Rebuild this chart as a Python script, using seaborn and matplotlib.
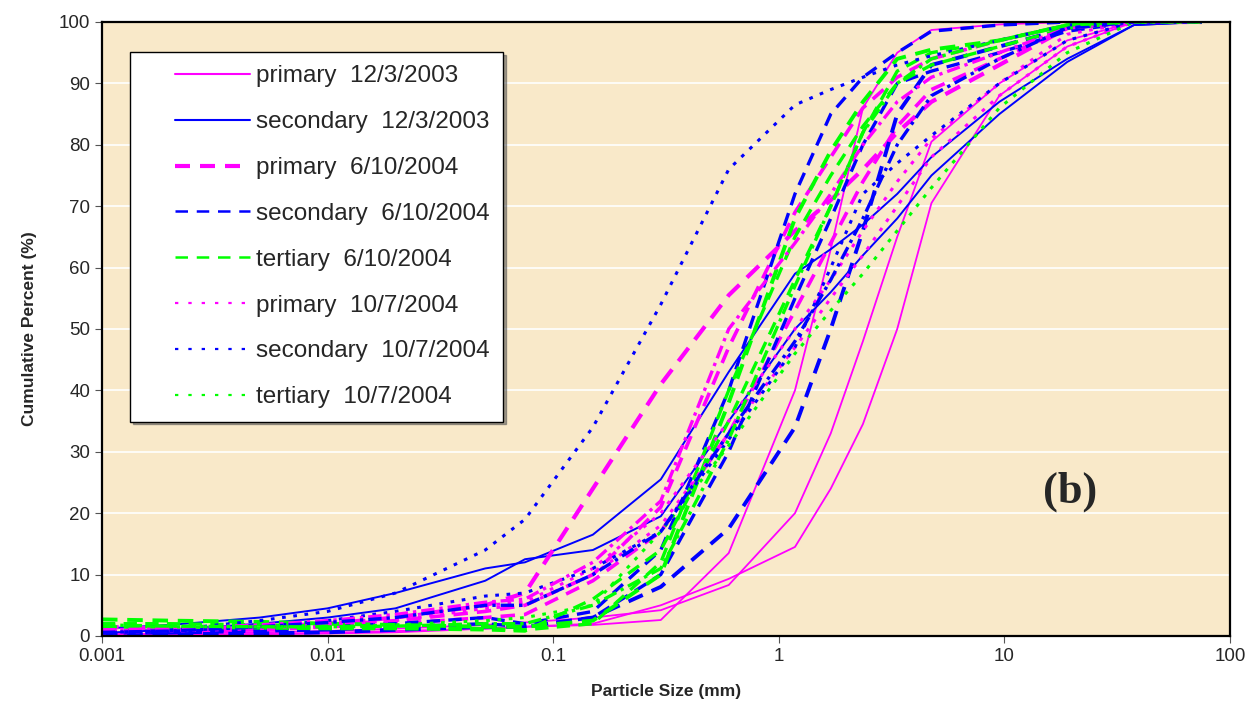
import numpy as np
import pandas as pd
import matplotlib
matplotlib.use("Agg")
import matplotlib.pyplot as plt
from matplotlib.lines import Line2D
from matplotlib.legend_handler import HandlerLine2D
import seaborn as sns

# sieve / hydrometer sizes (mm)
sizes = [0.001, 0.002, 0.005, 0.01, 0.02, 0.05, 0.075, 0.15, 0.3, 0.6,
         1.18, 1.7, 2.36, 3.35, 4.75, 9.5, 19, 37.5, 75]

# primary 12/3/2003
prim_0312_a = [0.2, 0.2, 0.3, 0.5, 0.8, 1.2, 1.5, 1.8, 2.6, 13.5, 40, 63, 86, 95, 98.7, 99.6, 100, 100, 100]
prim_0312_b = [0.3, 0.4, 0.6, 0.8, 1.2, 1.8, 2.2, 3, 4.2, 8.3, 20, 33, 48, 65, 80.5, 90, 97, 100, 100]
prim_0312_c = [0.1, 0.2, 0.3, 0.4, 0.6, 1.2, 1.5, 2, 5, 9.3, 14.5, 24, 34.5, 50, 70.5, 88, 96, 100, 100]
# secondary 12/3/2003
sec_0312_a = [1.2, 1.8, 3, 4.5, 7, 11, 12, 16.5, 25.5, 43, 59, 63, 67, 72, 78, 87, 94, 99.5, 100]
sec_0312_b = [0.5, 1, 2, 3, 4.5, 9, 12.5, 14, 19.5, 35, 50, 56, 62, 68, 75, 85, 93.5, 99.5, 100]
# primary 6/10/2004
prim_0610_a = [1.5, 1.2, 1.5, 2, 3, 5, 7, 24, 41, 55.5, 66, 71, 76, 82, 87, 93, 99, 100, 100]
prim_0610_b = [1, 1, 1.2, 1.8, 2.5, 4, 5, 10, 21, 47, 69, 78, 86, 91, 94, 97, 99.5, 100, 100]
prim_0610_c = [0.8, 0.8, 1, 1.5, 2, 3, 3.5, 9, 17, 33, 53, 64, 74, 83, 89, 94, 99, 100, 100]
# secondary 6/10/2004
sec_0610_a = [0.3, 0.3, 0.4, 0.6, 1, 1.5, 1.5, 3, 8, 17.5, 34, 50, 66, 85, 93, 96, 99, 100, 100]
sec_0610_b = [0.8, 0.8, 1, 1.5, 2, 3, 2, 4, 14, 40, 72, 85, 91, 95, 98.5, 99.5, 100, 100, 100]
sec_0610_c = [0.5, 0.5, 0.8, 1, 1.5, 2, 1.5, 3, 10, 30, 55, 68, 80, 90, 92, 95, 98.5, 100, 100]
# tertiary 6/10/2004
ter_0610_a = [2.7, 2.5, 2.3, 2, 1.8, 1.5, 1.5, 2.5, 10, 38, 68, 79, 87, 94, 95.5, 97, 99.5, 100, 100]
ter_0610_b = [2, 2, 1.8, 1.6, 1.5, 1.2, 1, 2, 12, 40, 65, 75, 83, 90, 93, 96, 99, 100, 100]
ter_0610_c = [1.5, 1.5, 1.3, 1.2, 1.2, 1, 0.8, 6, 14, 35, 58, 70, 82, 92, 95, 97, 99.5, 100, 100]
# primary 10/7/2004
prim_1007_a = [0.8, 1, 1.5, 2, 3, 5, 5.5, 11, 20, 35, 50, 58, 66, 74, 81, 90, 98, 100, 100]
prim_1007_b = [0.5, 0.8, 1.2, 1.8, 2.5, 4.5, 5, 10, 18, 33, 47, 55, 62, 70, 78, 88, 96, 100, 100]
# secondary 10/7/2004
sec_1007_a = [0.5, 1, 2.5, 4, 7, 14, 19, 34, 54, 76, 86.5, 89, 91, 93, 94.5, 97, 99.5, 100, 100]
sec_1007_b = [0.5, 0.8, 1.5, 2.5, 4, 6.5, 7, 11, 17, 32, 47, 60, 72, 77, 81.5, 90, 97, 100, 100]
# tertiary 10/7/2004
ter_1007_a = [1.5, 1.5, 1.5, 1.5, 1.8, 2.5, 3, 5, 17, 31, 46, 53, 59, 66, 73, 86, 95, 100, 100]
# replicate runs (dash-dot, not in legend)
prim_rep = [1, 1.2, 1.8, 2.5, 3.5, 5.5, 6, 12, 22, 50, 64, 72, 80, 87, 91, 95, 99, 100, 100]
sec_rep = [0.6, 0.8, 1.5, 2.2, 3, 5, 5, 10, 17, 33, 48, 58, 68, 80, 88, 94, 99, 100, 100]
ter_rep = [1.8, 1.6, 1.5, 1.5, 1.6, 2, 2, 5, 11, 32, 57, 70, 82, 90, 94, 97, 99.5, 100, 100]

MAG, BLU, GRN = "#FF00FF", "#0000FF", "#00FF00"
DASH = (0, (4, 2.5))
DOT = (0, (1.2, 2.5))
DASHDOT = (0, (4, 1.5, 1, 1.5))
LEG_DASH = (0, (5, 3.5))
LEG_DASH_THICK = (0, (3.6, 2.4))
LEG_DOT = (0, (1.5, 4.5))

# (values, colour, dash, width, legend label, legend dash, legend width)
runs = [
    (prim_0312_a, MAG, "-", 1.3, "primary  12/3/2003", "-", 1.5),
    (prim_0312_b, MAG, "-", 1.3, None, None, 0),
    (prim_0312_c, MAG, "-", 1.3, None, None, 0),
    (sec_0312_a, BLU, "-", 1.4, "secondary  12/3/2003", "-", 1.5),
    (sec_0312_b, BLU, "-", 1.4, None, None, 0),
    (prim_0610_a, MAG, DASH, 3.0, "primary  6/10/2004", LEG_DASH_THICK, 3.0),
    (prim_0610_b, MAG, DASH, 2.6, None, None, 0),
    (prim_0610_c, MAG, DASH, 2.6, None, None, 0),
    (sec_0610_a, BLU, DASH, 2.8, "secondary  6/10/2004", LEG_DASH, 1.8),
    (sec_0610_b, BLU, DASH, 2.4, None, None, 0),
    (sec_0610_c, BLU, DASH, 2.4, None, None, 0),
    (ter_0610_a, GRN, DASH, 2.8, "tertiary  6/10/2004", LEG_DASH, 1.8),
    (ter_0610_b, GRN, DASH, 2.4, None, None, 0),
    (ter_0610_c, GRN, DASH, 2.4, None, None, 0),
    (prim_1007_a, MAG, DOT, 2.2, "primary  10/7/2004", LEG_DOT, 1.6),
    (prim_1007_b, MAG, DOT, 2.2, None, None, 0),
    (sec_1007_a, BLU, DOT, 2.2, "secondary  10/7/2004", LEG_DOT, 1.6),
    (sec_1007_b, BLU, DOT, 2.2, None, None, 0),
    (ter_1007_a, GRN, DOT, 2.2, "tertiary  10/7/2004", LEG_DOT, 1.6),
    (prim_rep, MAG, DASHDOT, 2.4, None, None, 0),
    (sec_rep, BLU, DASHDOT, 2.4, None, None, 0),
    (ter_rep, GRN, DASHDOT, 2.4, None, None, 0),
]


# legend handle drawn only in the right part of the handle box (Excel style)
class LeadHandler(HandlerLine2D):
    def create_artists(self, legend, orig_handle, xdescent, ydescent,
                       width, height, fontsize, trans):
        arts = super().create_artists(legend, orig_handle, xdescent, ydescent,
                                      width, height, fontsize, trans)
        lead = width * 0.3
        for a in arts:
            y0 = np.asarray(a.get_ydata())[0]
            a.set_data([-xdescent + lead, -xdescent + width], [y0, y0])
        return arts


sns.set_style("white")
plt.rcParams["font.family"] = ["Liberation Sans", "DejaVu Sans"]

fig = plt.figure(figsize=(12.57, 7.26), dpi=100)
ax = fig.add_axes([0.0811, 0.124, 0.8974, 0.8457])
ax.set_facecolor("#F9E9C9")

handles, labels = [], []
for vals, col, ls, lw, lab, hls, hlw in runs:
    df = pd.DataFrame({"size": sizes, "pct": vals})
    sns.lineplot(data=df, x="size", y="pct", ax=ax, color=col, linestyle=ls,
                 linewidth=lw, estimator=None, sort=False, legend=False)
    if lab:
        handles.append(Line2D([], [], color=col, linestyle=hls, linewidth=hlw))
        labels.append(lab)

ax.set_xscale("log")
ax.set_xlim(0.001, 100)
ax.set_ylim(0, 100)
ax.set_xticks([0.001, 0.01, 0.1, 1, 10, 100])
ax.set_xticklabels(["0.001", "0.01", "0.1", "1", "10", "100"])
ax.minorticks_off()
ax.set_yticks(range(0, 101, 10))
ax.yaxis.grid(True, color="white", linewidth=1.2)
ax.set_axisbelow(True)
ax.tick_params(axis="both", labelsize=13.5, direction="out", length=5,
               color="#555555", left=True, bottom=True)
for side in ["left", "bottom", "top", "right"]:
    ax.spines[side].set_visible(True)
    ax.spines[side].set_color("black")
    ax.spines[side].set_linewidth(1.6)

ax.set_xlabel("Particle Size (mm)", fontsize=12.5, fontweight="bold", labelpad=14)
ax.set_ylabel("Cumulative Percent (%)", fontsize=12.5, fontweight="bold", labelpad=16)

leg = ax.legend(handles, labels, loc="upper left", bbox_to_anchor=(0.0248, 0.951),
                fontsize=17.5, frameon=True, fancybox=False, shadow=True,
                handlelength=4.4, handletextpad=0.25, labelspacing=0.98,
                borderpad=0.55, borderaxespad=0,
                handler_map={Line2D: LeadHandler()})
leg.get_frame().set_edgecolor("black")
leg.get_frame().set_linewidth(1.0)
leg.get_frame().set_alpha(1)

ax.text(19.5, 23.5, "(b)", fontsize=32, fontweight="bold", family="Liberation Serif",
        ha="center", va="center")

fig.savefig("out.png", dpi=100)
